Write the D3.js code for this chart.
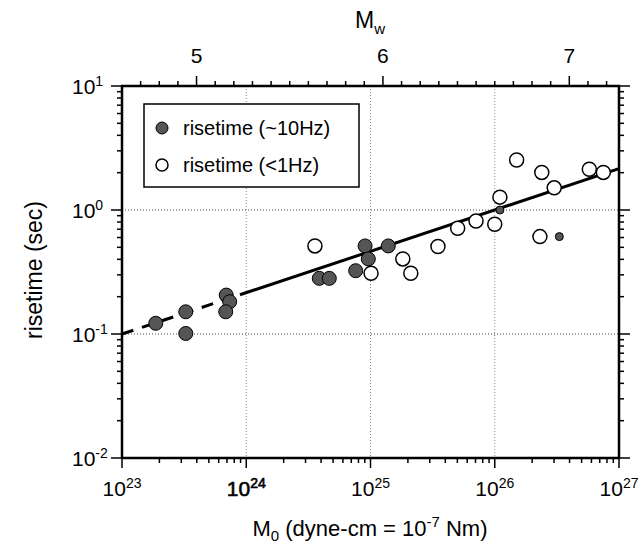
<!DOCTYPE html>
<html><head><meta charset="utf-8">
<script src="https://cdn.jsdelivr.net/npm/d3@7"></script>
<style>body{margin:0;background:#fff;} text{font-family:"Liberation Sans",Arial,sans-serif;fill:#000;}</style>
</head><body>
<svg id="chart" width="642" height="545"></svg>
<script>
// ---- data ----
const filledM0 = [1.87e23,3.26e23,3.26e23,6.9e23,7.36e23,6.84e23,3.87e24,4.66e24,7.6e24,9.04e24,9.6e24,1.39e25];
const filledRise = [0.122,0.151,0.101,0.206,0.182,0.151,0.281,0.281,0.324,0.513,0.403,0.513];
const smallM0 = [1.10e26,3.31e26];
const smallRise = [1.0,0.61];
const openM0 = [3.57e24,1.01e25,1.82e25,2.11e25,3.49e25,5.03e25,7.07e25,1.0e26,1.10e26,1.50e26,2.39e26,3.01e26,2.31e26,5.77e26,7.48e26];
const openRise = [0.513,0.309,0.403,0.309,0.508,0.712,0.815,0.767,1.27,2.53,2.01,1.51,0.61,2.13,2.01];
const xTickExp = [23,24,25,26,27];
const yTickExp = [1,0,-1,-2];
const mwTicks = [5,6,7];
const legendLabels = ["risetime (~10Hz)","risetime (<1Hz)"];
const fitM0 = [1e23, 8.9e23, 1e27]; // dashed up to 2nd, solid after
const fitCoef = 0.1, fitRefM0 = 1e23, fitExp = 1/3;

const svg = d3.select("#chart");
const L=122,R=619,T=86,B=458;
const x = d3.scaleLog().domain([1e23,1e27]).range([L,R]);
const y = d3.scaleLog().domain([1e-2,1e1]).range([B,T]);
const mwToM0 = mw => Math.pow(10, 1.5*mw + 16.1);
const fit = m => fitCoef*Math.pow(m/fitRefM0, fitExp);

// grid
const gridG = svg.append("g");
[1e24,1e25,1e26].forEach(v=>{
  gridG.append("line").attr("x1",x(v)).attr("x2",x(v)).attr("y1",T).attr("y2",B)
   .attr("stroke","#888").attr("stroke-width",1).attr("stroke-dasharray","1,2");
});
[1e0,1e-1].forEach(v=>{
  gridG.append("line").attr("x1",L).attr("x2",R).attr("y1",y(v)).attr("y2",y(v))
   .attr("stroke","#444").attr("stroke-width",1).attr("stroke-dasharray","1,2");
});

// ticks
const tickG = svg.append("g").attr("stroke","#000").attr("stroke-width",1.5);
for(let e=23;e<27;e++){
  for(let k=1;k<10;k++){
    const v=k*Math.pow(10,e), len = k===1?10:5;
    tickG.append("line").attr("x1",x(v)).attr("x2",x(v)).attr("y1",B).attr("y2",B+len);
  }
}
tickG.append("line").attr("x1",x(1e27)).attr("x2",x(1e27)).attr("y1",B).attr("y2",B+10);
for(let e=-2;e<1;e++){
  for(let k=1;k<10;k++){
    const v=k*Math.pow(10,e), len = k===1?11:5;
    tickG.append("line").attr("y1",y(v)).attr("y2",y(v)).attr("x1",L).attr("x2",L-len);
    tickG.append("line").attr("y1",y(v)).attr("y2",y(v)).attr("x1",R).attr("x2",R+len);
  }
}
[1e1].forEach(v=>{
  tickG.append("line").attr("y1",y(v)).attr("y2",y(v)).attr("x1",L).attr("x2",L-11);
  tickG.append("line").attr("y1",y(v)).attr("y2",y(v)).attr("x1",R).attr("x2",R+11);
});
for(let i=47;i<=72;i++){
  const mw=i/10, xv=x(mwToM0(mw));
  if(xv<L||xv>R) continue;
  const len = (i%10===0)?10:5;
  tickG.append("line").attr("x1",xv).attr("x2",xv).attr("y1",T).attr("y2",T-len);
}

// tick labels
xTickExp.forEach(e=>{
  const t = svg.append("text").attr("x",x(Math.pow(10,e))).attr("y",496)
   .attr("text-anchor","middle").attr("font-size",21);
  t.append("tspan").text("10");
  t.append("tspan").text(e).attr("font-size",14).attr("dy",-8);
  if(e===24) t.attr("stroke","#000").attr("stroke-width",0.6);
});
yTickExp.forEach(e=>{
  const t = svg.append("text").attr("x",72).attr("y",y(Math.pow(10,e))+8)
   .attr("text-anchor","start").attr("font-size",21);
  t.append("tspan").text("10");
  t.append("tspan").text(e).attr("font-size",14).attr("dy",-8);
});
mwTicks.forEach(m=>{
  svg.append("text").attr("x",x(mwToM0(m))).attr("y",63).attr("text-anchor","middle")
   .attr("font-size",21).text(m);
});

// axis titles
const xt = svg.append("text").attr("x",370).attr("y",536).attr("text-anchor","middle").attr("font-size",22);
xt.append("tspan").text("M");
xt.append("tspan").text("0").attr("font-size",15).attr("dy",5);
xt.append("tspan").text(" (dyne-cm = 10").attr("dy",-5);
xt.append("tspan").text("-7").attr("font-size",15).attr("dy",-9);
xt.append("tspan").text(" Nm)").attr("dy",9);
const mt = svg.append("text").attr("x",370).attr("y",28).attr("text-anchor","middle").attr("font-size",23);
mt.append("tspan").text("M");
mt.append("tspan").text("w").attr("font-size",15).attr("dy",6);
svg.append("text").attr("transform","translate(42,270) rotate(-90)").attr("text-anchor","middle")
 .attr("font-size",23).text("risetime (sec)");

// fit line
const lineGen = d3.line().x(d=>x(d)).y(d=>y(fit(d)));
svg.append("path").attr("d",lineGen([fitM0[0],fitM0[1]])).attr("fill","none")
 .attr("stroke","#000").attr("stroke-width",3).attr("stroke-dasharray","12,9");
svg.append("path").attr("d",lineGen([fitM0[1],fitM0[2]])).attr("fill","none")
 .attr("stroke","#000").attr("stroke-width",3);

// points
const ptG = svg.append("g");
filledM0.forEach((m,i)=>{
  ptG.append("circle").attr("cx",x(m)).attr("cy",y(filledRise[i])).attr("r",7)
   .attr("fill","#555").attr("stroke","#000").attr("stroke-width",1);
});
openM0.forEach((m,i)=>{
  ptG.append("circle").attr("cx",x(m)).attr("cy",y(openRise[i])).attr("r",7)
   .attr("fill","#fff").attr("stroke","#000").attr("stroke-width",1.5);
});
smallM0.forEach((m,i)=>{
  ptG.append("circle").attr("cx",x(m)).attr("cy",y(smallRise[i])).attr("r",4)
   .attr("fill","#555").attr("stroke","#000").attr("stroke-width",1);
});

// frame
svg.append("rect").attr("x",L).attr("y",T).attr("width",R-L).attr("height",B-T)
 .attr("fill","none").attr("stroke","#000").attr("stroke-width",2.5);

// legend
const lg = svg.append("g");
lg.append("rect").attr("x",144).attr("y",104).attr("width",215).attr("height",83)
 .attr("fill","#fff").attr("stroke","#000").attr("stroke-width",1.5);
lg.append("circle").attr("cx",162).attr("cy",128).attr("r",6).attr("fill","#555").attr("stroke","#000");
lg.append("circle").attr("cx",162).attr("cy",165).attr("r",6).attr("fill","#fff").attr("stroke","#000").attr("stroke-width",1.5);
lg.append("text").attr("x",183).attr("y",135).attr("font-size",20).text(legendLabels[0]);
lg.append("text").attr("x",183).attr("y",172).attr("font-size",20).text(legendLabels[1]);
</script>
</body></html>
